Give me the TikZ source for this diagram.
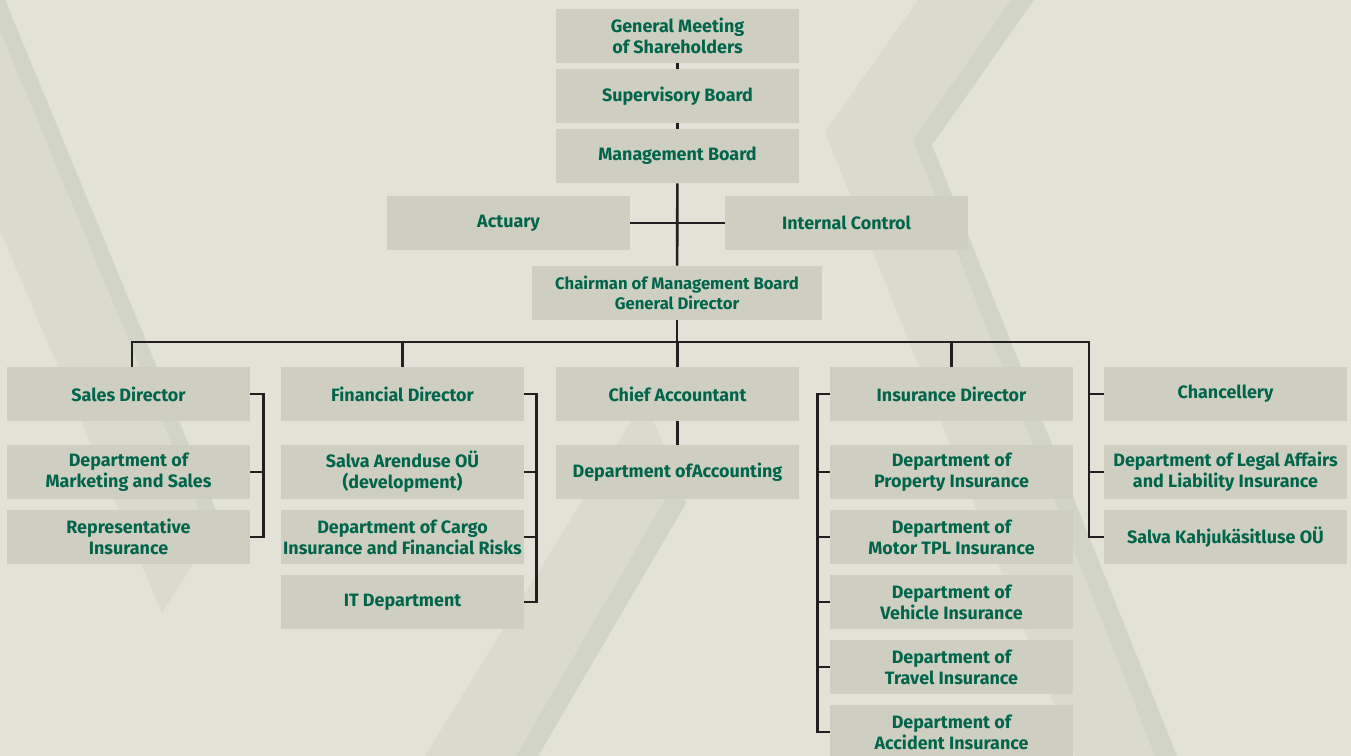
\documentclass[tikz,border=0pt]{standalone}
\usepackage{fontspec}
\setmainfont{Fira Sans}
\definecolor{bgbase}{HTML}{E2E3D6}
\definecolor{bglight}{HTML}{DADBCD}
\definecolor{bgdark}{HTML}{D2D4C5}
\definecolor{boxgray}{HTML}{CFCFC1}
\definecolor{textgreen}{HTML}{00654A}
\definecolor{linedark}{HTML}{231F20}
\begin{document}
\begin{tikzpicture}[x=0.02cm, y=-0.02cm]
	\tikzstyle{Box} = [rectangle, minimum width=4.86cm, minimum height=1.08cm, inner sep=0pt, text centered, align=center, fill=boxgray, text=textgreen, font=\bfseries\fontsize{10.2}{12}\selectfont]
	\tikzstyle{Line} = [line width=1.5pt, draw=linedark]
	
	\useasboundingbox (0,0) rectangle (1351,756);
	\fill [bgbase] (0,0) rectangle (1351,756);
	\fill [bglight] (0,0) -- (5,0) -- (220,520) -- (162,613) -- (0,230) -- cycle;
	\fill [bgdark] (0,0) -- (5,0) -- (220,520) -- (210,536) -- (0,30) -- cycle;
	\fill [bglight] (425,756) -- (645,399) -- (686,503) -- (538,756) -- cycle;
	\fill [bgdark] (516,756) -- (677,479) -- (686,503) -- (538,756) -- cycle;
	\fill [bglight] (918,0) -- (825,132) -- (1075,756) -- (1155,756) -- (913,140) -- (1011,0) -- cycle;
	\fill [bgdark] (1011,0) -- (913,140) -- (1155,756) -- (1177,756) -- (932,145) -- (1034,0) -- cycle;
	
	\node (gm) [Box] at (677.5,36) {General Meeting\\of Shareholders};
	\node (sb) [Box] at (677.5,96) {Supervisory Board};
	\node (mb) [Box] at (677.5,156) {Management Board};
	\node (act) [Box] at (508.5,223) {Actuary};
	\node (ic) [Box] at (846.5,223) {Internal Control};
	\node (chair) [Box, minimum width=5.8cm, font=\bfseries\fontsize{9.5}{11}\selectfont] at (677,293) {Chairman of Management Board\\General Director};
	
	\node (sales) [Box] at (128.5,394) {Sales Director};
	\node (mark) [Box] at (128.5,472) {Department of\\Marketing and Sales};
	\node (rep) [Box] at (128.5,537) {Representative\\Insurance};
	
	\node (fin) [Box] at (402.5,394) {Financial Director};
	\node (arend) [Box] at (402.5,472) {Salva Arenduse OÜ\\(development)};
	\node (cargo) [Box] at (402.5,537) {Department of Cargo\\Insurance and Financial Risks};
	\node (itd) [Box] at (402.5,602) {IT Department};
	
	\node (chief) [Box] at (677.5,394) {Chief Accountant};
	\node (acc) [Box] at (677.5,472) {Department ofAccounting};
	
	\node (insd) [Box] at (951.5,394) {Insurance Director};
	\node (prop) [Box] at (951.5,472) {Department of\\Property Insurance};
	\node (motor) [Box] at (951.5,537) {Department of\\Motor TPL Insurance};
	\node (vehic) [Box] at (951.5,602) {Department of\\Vehicle Insurance};
	\node (travel) [Box] at (951.5,667) {Department of\\Travel Insurance};
	\node (accid) [Box] at (951.5,732) {Department of\\Accident Insurance};
	
	\node (chanc) [Box] at (1225.5,394) {Chancellery};
	\node (legal) [Box] at (1225.5,472) {Department of Legal Affairs\\and Liability Insurance};
	\node (salk) [Box] at (1225.5,537) {Salva Kahjukäsitluse OÜ};
	
	\coordinate (busL) at (132,342);
	\coordinate (busR) at (1089,342);
	
	\draw [Line] (gm) -- (sb);
	\draw [Line] (sb) -- (mb);
	\draw [Line] (mb) -- (chair);
	\draw [Line] (act) -- (ic);
	\draw [Line] (chair) -- (chair |- busL);
	\draw [Line] (sales.north -| busL) -- (busL) -- (busR) |- (salk.west);
	\draw [Line] (fin) -- (fin |- busL);
	\draw [Line] (chief) -- (chief |- busL);
	\draw [Line] (insd) -- (insd |- busL);
	\draw [Line] (busR |- chanc.west) -- (chanc.west);
	\draw [Line] (busR |- legal.west) -- (legal.west);
	
	\draw [Line] (sales.east) -- ++(13,0) |- (rep.east);
	\draw [Line] (mark.east) -- ++(13,0);
	\draw [Line] (fin.east) -- ++(12,0) |- (itd.east);
	\draw [Line] (arend.east) -- ++(12,0);
	\draw [Line] (cargo.east) -- ++(12,0);
	\draw [Line] (chief) -- (acc);
	\draw [Line] (insd.west) -- ++(-12,0) |- (accid.west);
	\draw [Line] (prop.west) -- ++(-12,0);
	\draw [Line] (motor.west) -- ++(-12,0);
	\draw [Line] (vehic.west) -- ++(-12,0);
	\draw [Line] (travel.west) -- ++(-12,0);
\end{tikzpicture}
\end{document}
